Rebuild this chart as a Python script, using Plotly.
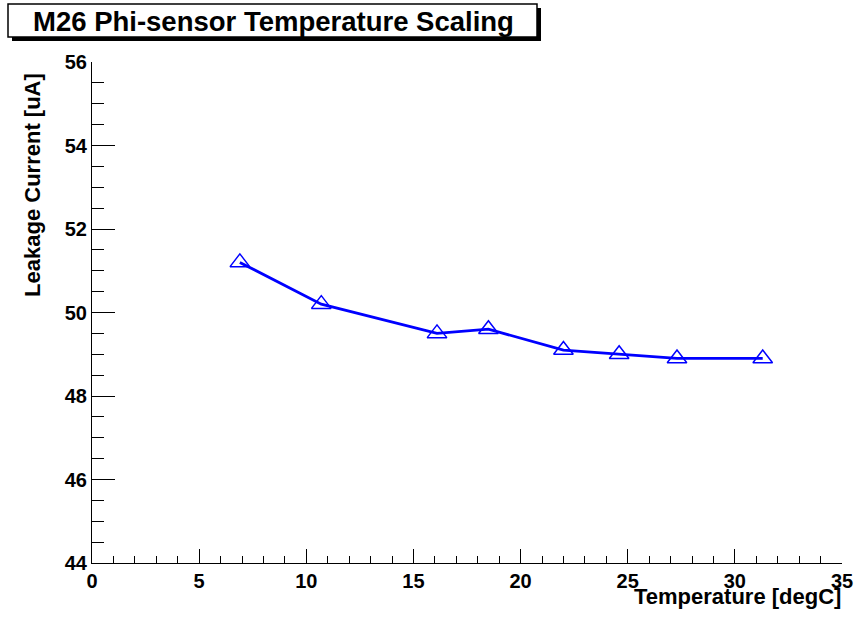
import plotly.graph_objects as go

temperature = [6.9, 10.7, 16.1, 18.5, 22.0, 24.6, 27.3, 31.3]
leakage_current = [51.2, 50.2, 49.5, 49.6, 49.1, 49.0, 48.9, 48.9]

title_text = "M26 Phi-sensor Temperature Scaling"
x_title = "Temperature [degC]"
y_title = "Leakage Current [uA]"

W, H = 854, 620
L = 92
T = 62
R = W - 842
B = H - 563.5
pw = W - L - R
ph = H - T - B

def px(x):
    # page pixel -> paper fraction
    return (x - L) / pw

def py(y):
    return (H - B - y) / ph

FONT = "Liberation Sans, Arial, Helvetica, sans-serif"

fig = go.Figure()
fig.add_trace(go.Scatter(
    x=temperature, y=leakage_current, mode="lines+markers",
    line=dict(color="#0000ff", width=2.8),
    marker=dict(symbol="triangle-up-open", size=17, color="#0000ff",
                line=dict(width=1.5, color="#0000ff")),
    showlegend=False, cliponaxis=False,
))

axis_common = dict(
    showgrid=False, zeroline=False, showline=True, linecolor="black",
    linewidth=1, ticks="inside", tickcolor="black", mirror=False,
    automargin=False,
    tickfont=dict(family=FONT, size=20, color="black", weight="bold"),
)

fig.update_xaxes(range=[0, 35], tick0=0, dtick=5, ticklen=14, tickwidth=1,
                 minor=dict(dtick=1, ticklen=7, ticks="inside", tickcolor="black", tickwidth=1),
                 **axis_common)
fig.update_yaxes(range=[44, 56], tick0=44, dtick=2, ticklen=23, tickwidth=1,
                 minor=dict(dtick=0.5, ticklen=12, ticks="inside", tickcolor="black", tickwidth=1),
                 **axis_common)

shapes = [
    # title box shadow
    dict(type="rect", xref="paper", yref="paper",
         x0=px(12), x1=px(541), y0=py(8), y1=py(41),
         fillcolor="black", line=dict(width=0), layer="above"),
    dict(type="rect", xref="paper", yref="paper",
         x0=px(8), x1=px(537), y0=py(4), y1=py(37),
         fillcolor="white", line=dict(color="black", width=1.5), layer="above"),
]

annotations = [
    dict(text=title_text, xref="paper", yref="paper", x=px(273), y=py(21),
         xanchor="center", yanchor="middle", showarrow=False,
         font=dict(family=FONT, size=27.5, color="black", weight="bold")),
    dict(text=x_title, xref="paper", yref="paper", x=px(843), y=py(597),
         xanchor="right", yanchor="middle", showarrow=False,
         font=dict(family=FONT, size=22, color="black", weight="bold")),
    dict(text=y_title, xref="paper", yref="paper", x=px(33), y=py(185),
         xanchor="center", yanchor="middle", showarrow=False, textangle=-90,
         font=dict(family=FONT, size=22, color="black", weight="bold")),
]

fig.update_layout(
    template="none",
    width=W, height=H, paper_bgcolor="white", plot_bgcolor="white",
    margin=dict(l=L, r=R, t=T, b=B, pad=0),
    shapes=shapes, annotations=annotations,
)

fig.write_html(
    "out.html",
    config={"displayModeBar": False},
    post_script="document.body.style.margin='0';document.body.style.overflow='hidden';",
)
